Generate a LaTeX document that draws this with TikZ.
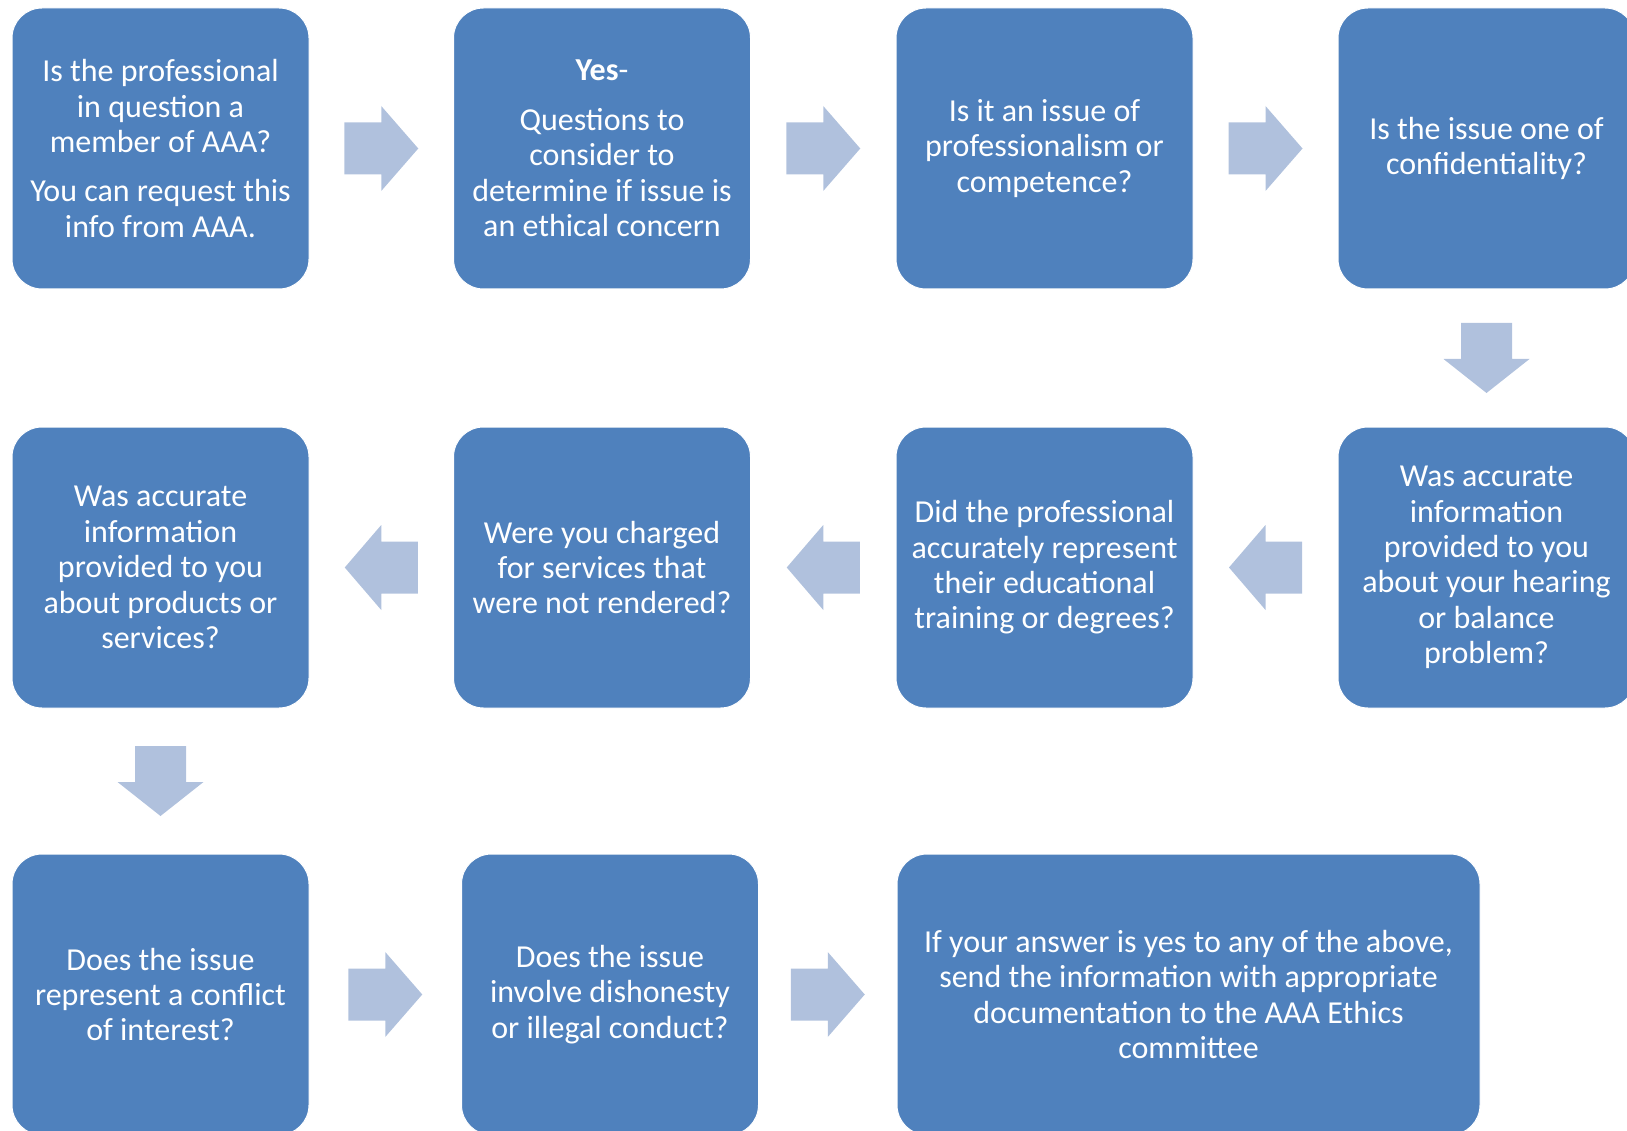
\documentclass[tikz,border=0pt]{standalone}
\usepackage{fontspec}
\setmainfont{Carlito}
\usetikzlibrary{calc}
\definecolor{boxblue}{HTML}{4F81BD}
\definecolor{arrowblue}{HTML}{B0C1DD}
\begin{document}
\begin{tikzpicture}[x=1pt,y=-1pt,
  box/.style={draw=white, line width=1pt, fill=boxblue, rounded corners=30pt,
    minimum width=297pt, minimum height=281pt, inner sep=0pt, align=center,
    text=white, font=\fontsize{32}{35.4}\selectfont},
  rarrow/.pic={\fill[arrowblue] (-37,-26) -- (0,-26) -- (0,-42.5) -- (37,0) -- (0,42.5) -- (0,26) -- (-37,26) -- cycle;},
  larrow/.pic={\fill[arrowblue] (36.5,-26) -- (0,-26) -- (0,-42.5) -- (-36.5,0) -- (0,42.5) -- (0,26) -- (36.5,26) -- cycle;},
  darrow/.pic={\fill[arrowblue] (-25.5,-35) -- (25.5,-35) -- (25.5,1) -- (43,1) -- (0,35) -- (-43,1) -- (-25.5,1) -- cycle;}
]
\useasboundingbox (0,0) rectangle (1627,1131);
\clip (0,0) rectangle (1627,1131);
% row 1
\node[box] (a1) at (160.5,148.5) {Is the professional\\in question a\\member of AAA?\\[14pt]You can request this\\info from AAA.};
\node[box] (a2) at (602,148.5) {\textbf{Yes}-\\[14pt]Questions to\\consider to\\determine if issue is\\an ethical concern};
\node[box] (a3) at (1044.5,148.5) {Is it an issue of\\professionalism or\\competence?};
\node[box] (a4) at (1486.5,148.5) {Is the issue one of\\confidentiality?};
% row 2
\node[box] (b4) at (1486.5,567.5) {Was accurate\\information\\provided to you\\about your hearing\\or balance\\problem?};
\node[box] (b3) at (1044.5,567.5) {Did the professional\\accurately represent\\their educational\\training or degrees?};
\node[box] (b2) at (602,567.5) {Were you charged\\for services that\\were not rendered?};
\node[box] (b1) at (160.5,567.5) {Was accurate\\information\\provided to you\\about products or\\services?};
% row 3
\node[box] (c1) at (160.5,994.5) {Does the issue\\represent a conflict\\of interest?};
\node[box] (c2) at (610,994.5) {Does the issue\\involve dishonesty\\or illegal conduct?};
\node[box, minimum width=583pt] (c3) at (1188.5,994.5) {If your answer is yes to any of the above,\\send the information with appropriate\\documentation to the AAA Ethics\\committee};
% arrows
\path ($(a1.east)!0.5!(a2.west)$) pic {rarrow};
\path ($(a2.east)!0.5!(a3.west)$) pic {rarrow};
\path ($(a3.east)!0.5!(a4.west)$) pic {rarrow};
\path ($(a4.south)!0.5!(b4.north)$) pic {darrow};
\path ($(b4.west)!0.5!(b3.east)$) pic {larrow};
\path ($(b3.west)!0.5!(b2.east)$) pic {larrow};
\path ($(b2.west)!0.5!(b1.east)$) pic {larrow};
\path ($(b1.south)!0.5!(c1.north)$) pic {darrow};
\path ($(c1.east)!0.5!(c2.west)$) pic {rarrow};
\path ($(c2.east)!0.5!(c3.west)$) pic {rarrow};
\end{tikzpicture}
\end{document}
